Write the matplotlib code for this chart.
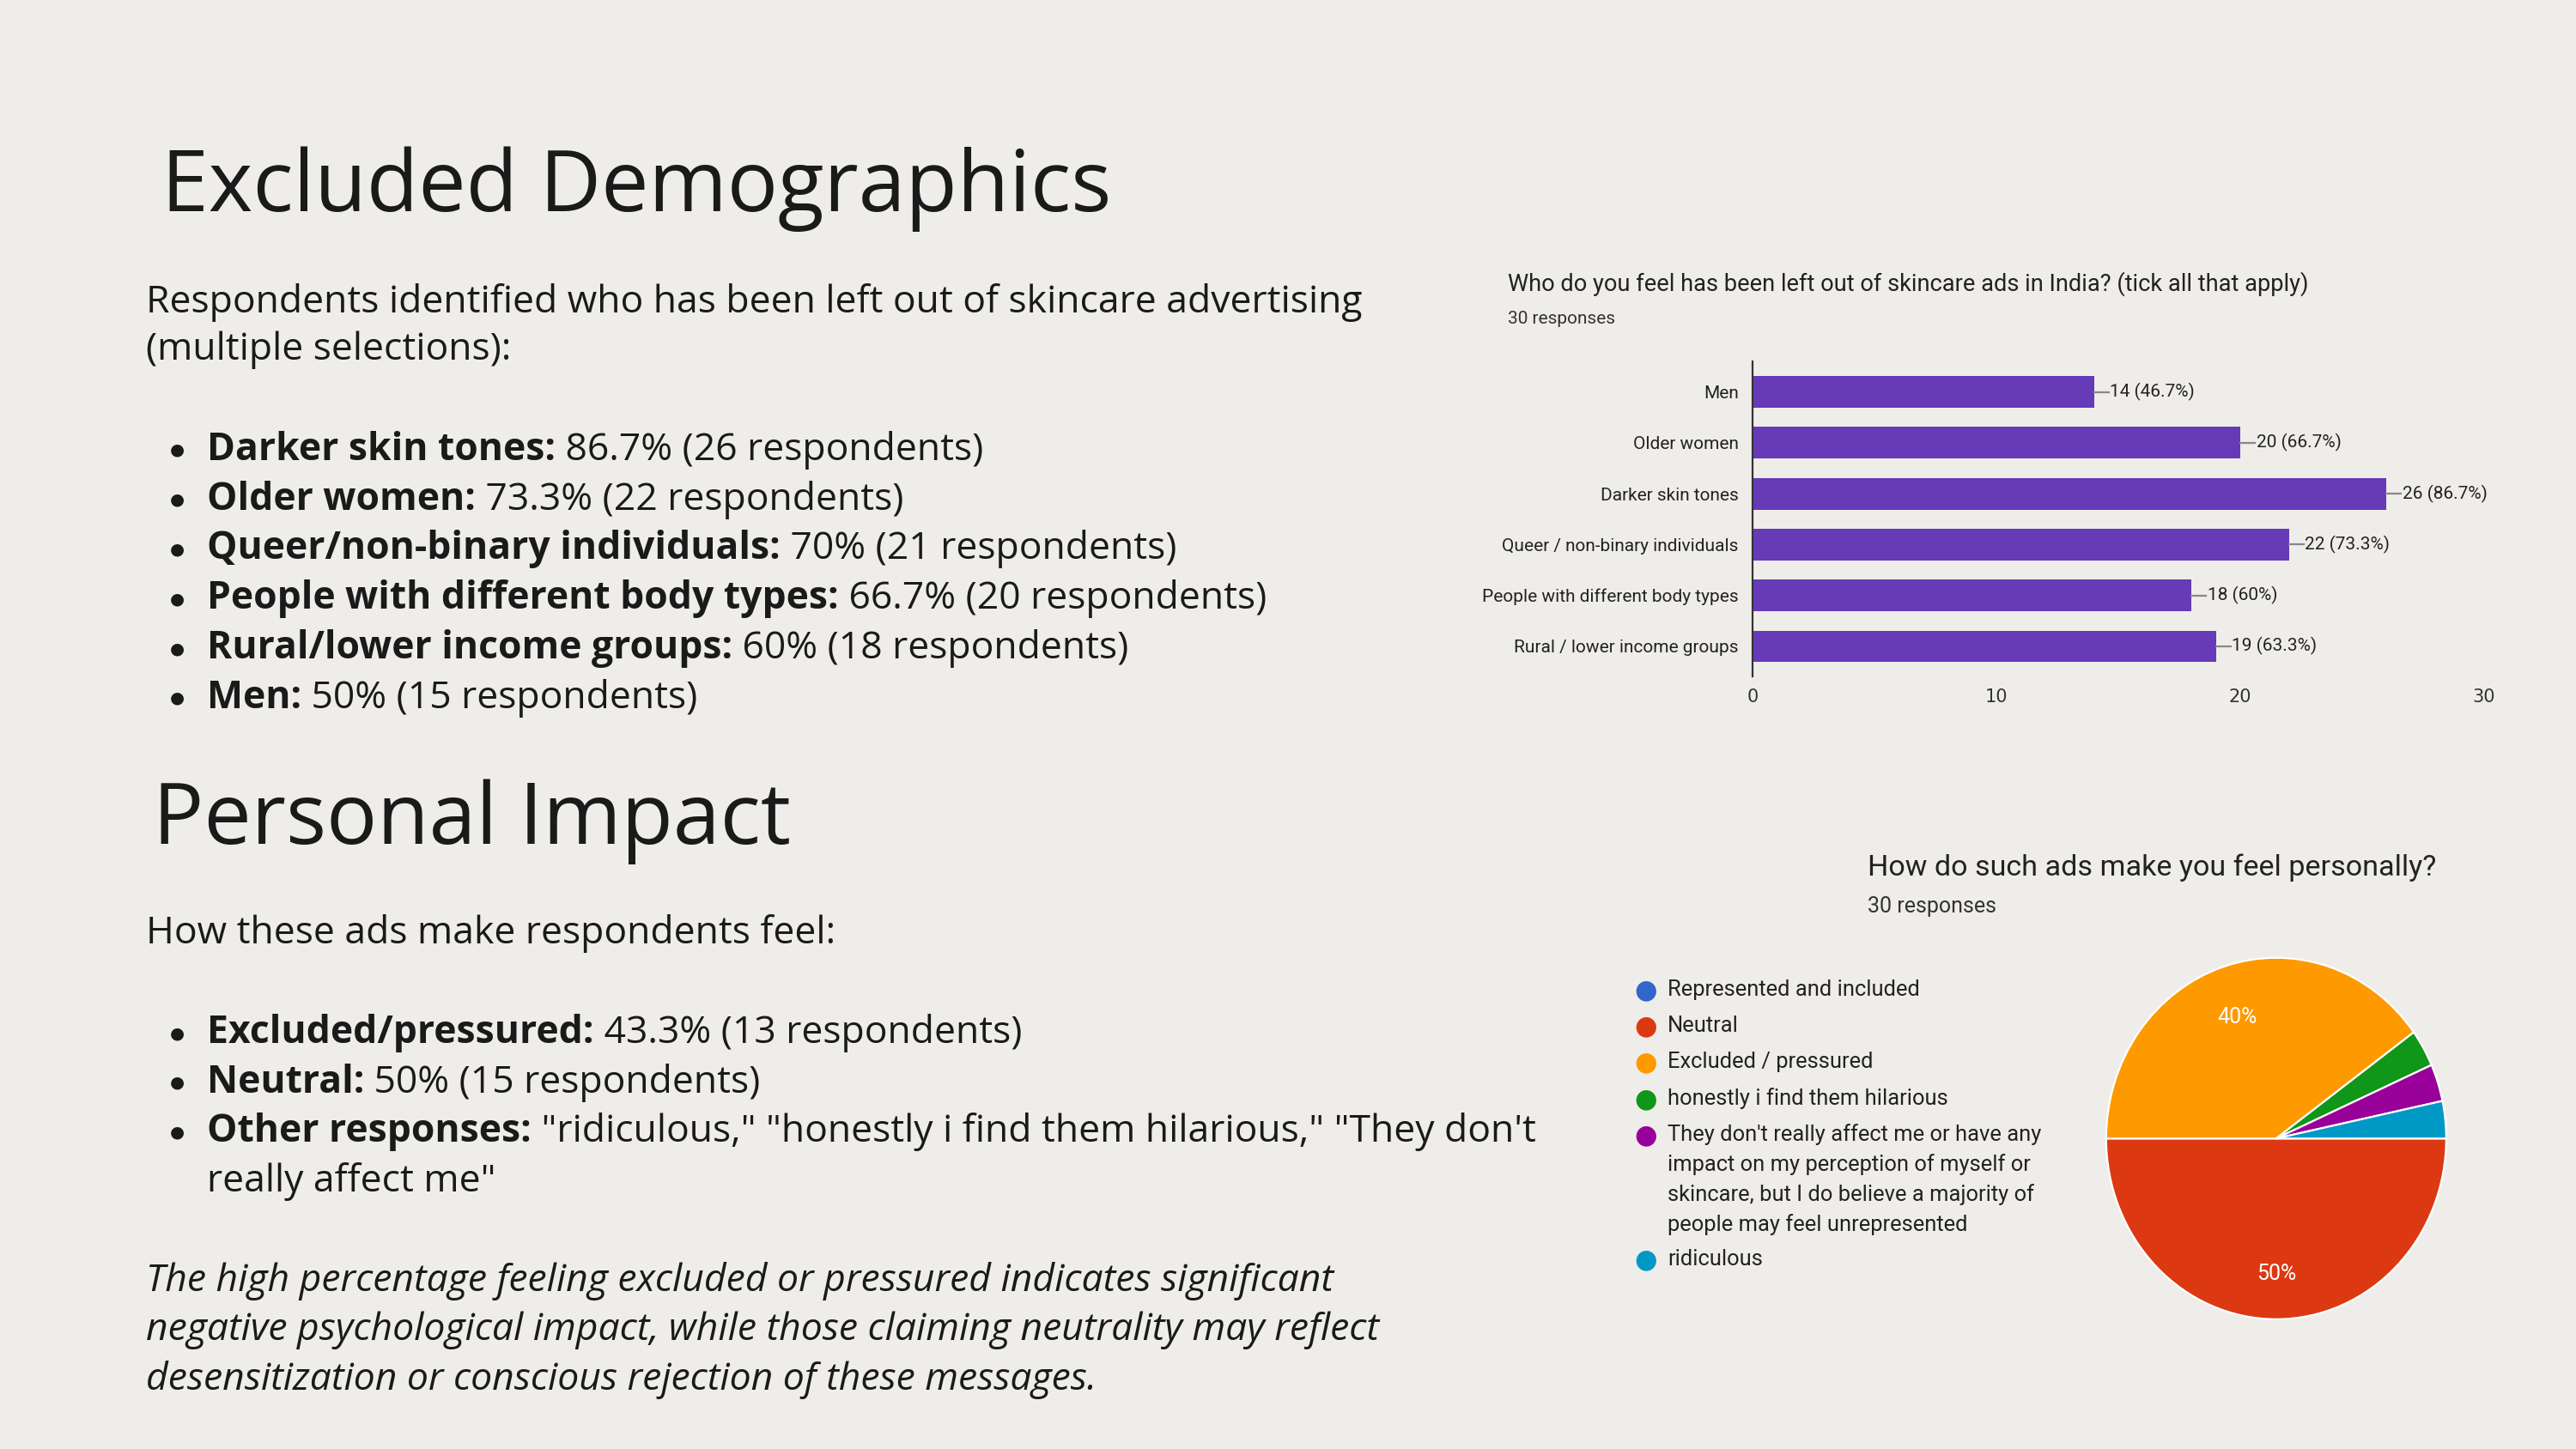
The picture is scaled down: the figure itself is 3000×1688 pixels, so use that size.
import matplotlib.pyplot as plt

# bar chart data
bar_labels = ["Men", "Older women", "Darker skin tones", "Queer / non-binary individuals",
              "People with different body types", "Rural / lower income groups"]
bar_values = [14, 20, 26, 22, 18, 19]
bar_pcts = ["46.7%", "66.7%", "86.7%", "73.3%", "60%", "63.3%"]

# pie chart data
pie_labels = ["Represented and included", "Neutral", "Excluded / pressured",
              "honestly i find them hilarious",
              "They don't really affect me or have any\nimpact on my perception of myself or\nskincare, but I do believe a majority of\npeople may feel unrepresented",
              "ridiculous"]
pie_values = [0, 15, 12, 1, 1, 1]
pie_colors = ["#3366cc", "#dc3912", "#ff9900", "#109618", "#990099", "#0099c6"]

demo_bullets = [("Darker skin tones:", " 86.7% (26 respondents)"),
                ("Older women:", " 73.3% (22 respondents)"),
                ("Queer/non-binary individuals:", " 70% (21 respondents)"),
                ("People with different body types:", " 66.7% (20 respondents)"),
                ("Rural/lower income groups:", " 60% (18 respondents)"),
                ("Men:", " 50% (15 respondents)")]
impact_bullets = [("Excluded/pressured:", " 43.3% (13 respondents)"),
                  ("Neutral:", " 50% (15 respondents)"),
                  ("Other responses:", " \"ridiculous,\" \"honestly i find them hilarious,\" \"They don't")]

BG = "#efede9"
TXT = "#1a1a1a"
FONT = "Open Sans"
BODY = 16
HEAD = 35.5
W, H = 1568, 882  # layout measured on the preview

fig = plt.figure(figsize=(15, 8.44), dpi=200, facecolor=BG)

def fx(x): return x / W
def fy(y): return 1 - y / H

fig.canvas.draw()
renderer = fig.canvas.get_renderer()

def mixed(x, y, bold, rest, size=BODY):
    t = fig.text(fx(x), fy(y), bold, fontsize=size, fontweight="bold", family=FONT,
                 color=TXT, va="center")
    bb = t.get_window_extent(renderer)
    x2 = bb.x1 / fig.bbox.width
    fig.text(x2, fy(y), rest, fontsize=size, family=FONT, color=TXT, va="center")

def bullet(y):
    fig.text(fx(108), fy(y), "●", fontsize=7, family="DejaVu Sans", color=TXT, va="center", ha="center")

fig.text(fx(98), fy(115), "Excluded Demographics", fontsize=HEAD, family=FONT, color=TXT, va="center")
fig.text(fx(89), fy(184), "Respondents identified who has been left out of skincare advertising",
         fontsize=BODY, family=FONT, color=TXT, va="center")
fig.text(fx(89), fy(213), "(multiple selections):", fontsize=BODY, family=FONT, color=TXT, va="center")
for i, (b, r) in enumerate(demo_bullets):
    y = 274 + i * 30.2
    bullet(y)
    mixed(126, y, b, r)

fig.text(fx(93), fy(500), "Personal Impact", fontsize=HEAD, family=FONT, color=TXT, va="center")
fig.text(fx(89), fy(568), "How these ads make respondents feel:", fontsize=BODY, family=FONT,
         color=TXT, va="center")
for i, (b, r) in enumerate(impact_bullets):
    y = 629 + i * 30
    bullet(y)
    mixed(126, y, b, r)
fig.text(fx(126), fy(719), "really affect me\"", fontsize=BODY, family=FONT, color=TXT, va="center")
for i, line in enumerate(["The high percentage feeling excluded or pressured indicates significant",
                          "negative psychological impact, while those claiming neutrality may reflect",
                          "desensitization or conscious rejection of these messages."]):
    fig.text(fx(89), fy(780 + i * 30), line, fontsize=BODY, family=FONT, style="italic",
             color=TXT, va="center")

# bar chart
fig.text(fx(918), fy(173), "Who do you feel has been left out of skincare ads in India? (tick all that apply)",
         fontsize=9.8, family="Roboto", color="#222222", va="center")
fig.text(fx(918), fy(194), "30 responses", fontsize=7.5, family="Roboto", color="#333333", va="center")
ax = fig.add_axes([fx(1067), fy(412), fx(1512) - fx(1067), fy(220) - fy(412)])
ax.set_facecolor("none")
ypos = list(range(len(bar_values)))
ax.barh(ypos, bar_values, height=0.62, color="#673ab7")
ax.set_xlim(0, 30)
ax.set_ylim(len(bar_values) - 0.4, -0.6)
ax.set_yticks(ypos)
ax.set_yticklabels(bar_labels, fontsize=7.5, family="Roboto", color="#222222")
ax.set_xticks([0, 10, 20, 30])
ax.tick_params(axis="x", labelsize=7.5, length=0, pad=5, labelcolor="#333333")
ax.tick_params(axis="y", length=0, pad=6)
for s in ["top", "right", "bottom"]:
    ax.spines[s].set_visible(False)
ax.spines["left"].set_color("#333333")
for i, (v, p) in enumerate(zip(bar_values, bar_pcts)):
    ax.plot([v, v + 0.6], [i, i], color="#888888", lw=0.8)
    ax.text(v + 0.65, i, f"{v} ({p})", fontsize=7.5, family="Roboto", color="#222222", va="center")

# pie chart
fig.text(fx(1137), fy(528), "How do such ads make you feel personally?", fontsize=12.3,
         family="Roboto", color="#222222", va="center")
fig.text(fx(1137), fy(552), "30 responses", fontsize=9, family="Roboto", color="#333333", va="center")
pax = fig.add_axes([fx(1282), fy(803), fx(1489) - fx(1282), fy(583) - fy(803)])
wedges, _ = pax.pie(pie_values, colors=pie_colors, startangle=0, counterclock=False,
                    wedgeprops=dict(edgecolor="white", linewidth=0.8))
pax.set_aspect("auto")
pax.set_xlim(-1, 1)
pax.set_ylim(-1, 1)
total = sum(pie_values)
pax.text(-0.23, 0.67, f"{round(pie_values[2] / total * 100)}%", color="white", fontsize=9,
         family="Roboto", ha="center", va="center")
pax.text(0.0, -0.75, f"{round(pie_values[1] / total * 100)}%", color="white", fontsize=9,
         family="Roboto", ha="center", va="center")

ly = [603, 625, 647, 669, 691, 767]
for lab, c, y in zip(pie_labels, pie_colors, ly):
    fig.text(fx(1002), fy(y), "●", fontsize=11, color=c, ha="center", va="center", family="DejaVu Sans")
    fig.text(fx(1015), fy(y - 7), lab, fontsize=9.2, family="Roboto", color="#222222", va="top",
             linespacing=1.5)

fig.savefig("out.png", dpi=200, facecolor=BG)
